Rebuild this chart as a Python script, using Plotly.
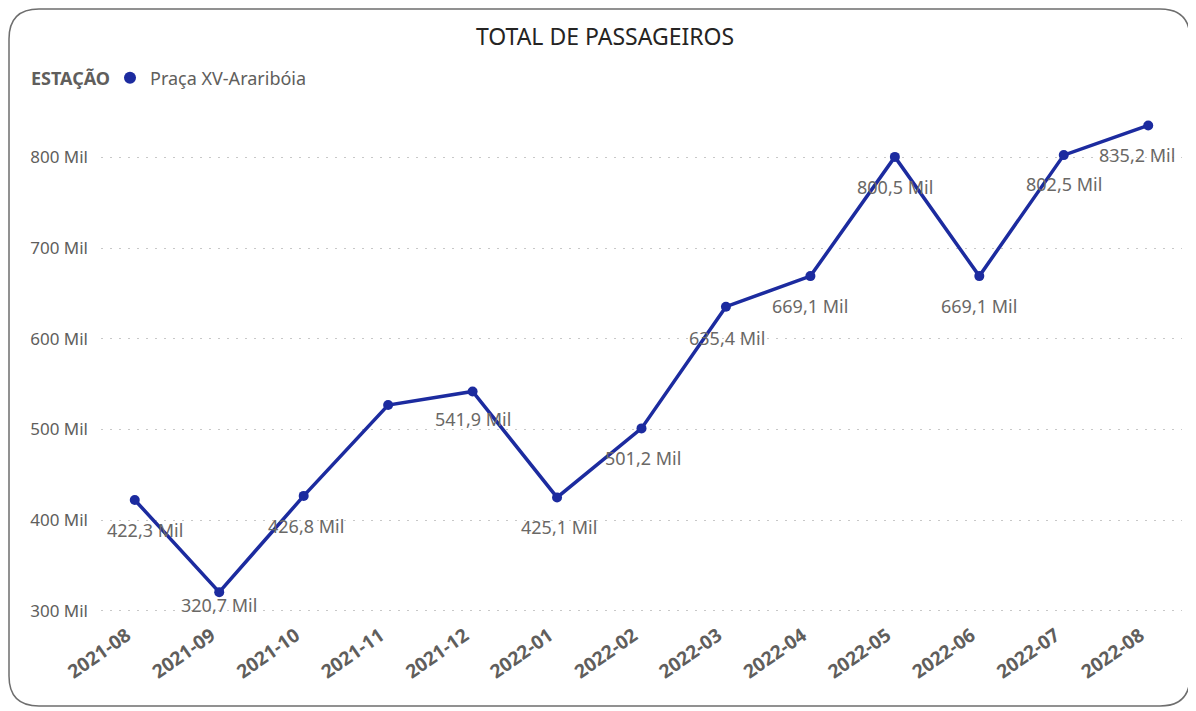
import plotly.graph_objects as go

months = ["2021-08", "2021-09", "2021-10", "2021-11", "2021-12", "2022-01", "2022-02",
          "2022-03", "2022-04", "2022-05", "2022-06", "2022-07", "2022-08"]
passengers_mil = [422.3, 320.7, 426.8, 527.0, 541.9, 425.1, 501.2,
                  635.4, 669.1, 800.5, 669.1, 802.5, 835.2]
label_shown = [True, True, True, False, True, True, True,
               True, True, True, True, True, True]
label_xshift = [10, 0, 2, 0, 0, 2, 1, 1, 0, 0, 0, 0, -11]
label_yshift = [-30, -13, -30, 0, -28, -30, -30, -31, -30, -30, -30, -29, -30]
y_ticks = [300, 400, 500, 600, 700, 800]
y_tick_labels = ["300 Mil", "400 Mil", "500 Mil", "600 Mil", "700 Mil", "800 Mil"]
series_name = "Praça XV-Araribóia"

LINE = "#1C2B9F"
GRAY = "#605E5C"
FONT = "Noto Sans"

fig = go.Figure()
fig.add_trace(go.Scatter(
    x=months, y=passengers_mil, mode="lines+markers",
    line=dict(color=LINE, width=3.5), marker=dict(size=10, color=LINE),
    showlegend=False, hoverinfo="x+y"))
fig.add_trace(go.Scatter(
    x=[None], y=[None], mode="markers", name=series_name,
    marker=dict(size=12, color=LINE), showlegend=True))

for m, v, s, dx, dy in zip(months, passengers_mil, label_shown, label_xshift, label_yshift):
    if not s:
        continue
    fig.add_annotation(x=m, y=v, text=f"{v:.1f}".replace(".", ",") + " Mil",
                       showarrow=False, xshift=dx, yshift=dy,
                       font=dict(family=FONT, size=18, color="#6A6866"))

# figure coordinates (page minus 8px body margin)
L, R, T, B = 93, 1174, 104, 612
W, H = R - L, B - T
def px(x): return (x - L) / W
def py(y): return (B - y) / H
x0, x1, y0, y1, r = 1, 1182, 1, 698, 30
path = (f"M {px(x0+r)},{py(y0)} L {px(x1-r)},{py(y0)} "
        f"Q {px(x1)},{py(y0)} {px(x1)},{py(y0+r)} "
        f"L {px(x1)},{py(y1-r)} Q {px(x1)},{py(y1)} {px(x1-r)},{py(y1)} "
        f"L {px(x0+r)},{py(y1)} Q {px(x0)},{py(y1)} {px(x0)},{py(y1-r)} "
        f"L {px(x0)},{py(y0+r)} Q {px(x0)},{py(y0)} {px(x0+r)},{py(y0)} Z")
fig.add_shape(type="path", path=path, xref="paper", yref="paper",
              line=dict(color="#6E6E6E", width=1.5), layer="below")

fig.add_annotation(text="<b>ESTAÇÃO</b>", xref="paper", yref="paper",
                   x=px(21), y=py(70), xanchor="left", yanchor="middle",
                   showarrow=False, font=dict(family=FONT, size=18, color=GRAY))

fig.update_layout(
    width=1196, height=711,
    margin=dict(l=L, r=1196 - R, t=T, b=711 - B),
    paper_bgcolor="white", plot_bgcolor="white",
    title=dict(text="TOTAL DE PASSAGEIROS", x=597 / 1196, xanchor="center",
               y=1 - 29 / 711, yanchor="middle",
               font=dict(family=FONT, size=23, color="#252423")),
    legend=dict(orientation="h", x=px(102), xanchor="left", y=py(70), yanchor="middle",
                font=dict(family=FONT, size=18, color=GRAY),
                itemwidth=30, bgcolor="rgba(0,0,0,0)"),
    xaxis=dict(type="category", categoryorder="array", categoryarray=months,
               range=[-0.4, 12.4], showgrid=False, showline=False, zeroline=False,
               tickangle=-35, ticks="", ticklabelshift=-8,
               tickfont=dict(family=FONT, size=19, color=GRAY, weight="bold")),
    yaxis=dict(range=[290, 850], tickvals=y_ticks, ticktext=y_tick_labels,
               showgrid=True, gridcolor="#C8C8C8", griddash="2px,7px", gridwidth=1.2,
               zeroline=False, showline=False, ticks="", ticklabelstandoff=12,
               tickfont=dict(family=FONT, size=17, color=GRAY)),
)

fig.write_html("out.html")
